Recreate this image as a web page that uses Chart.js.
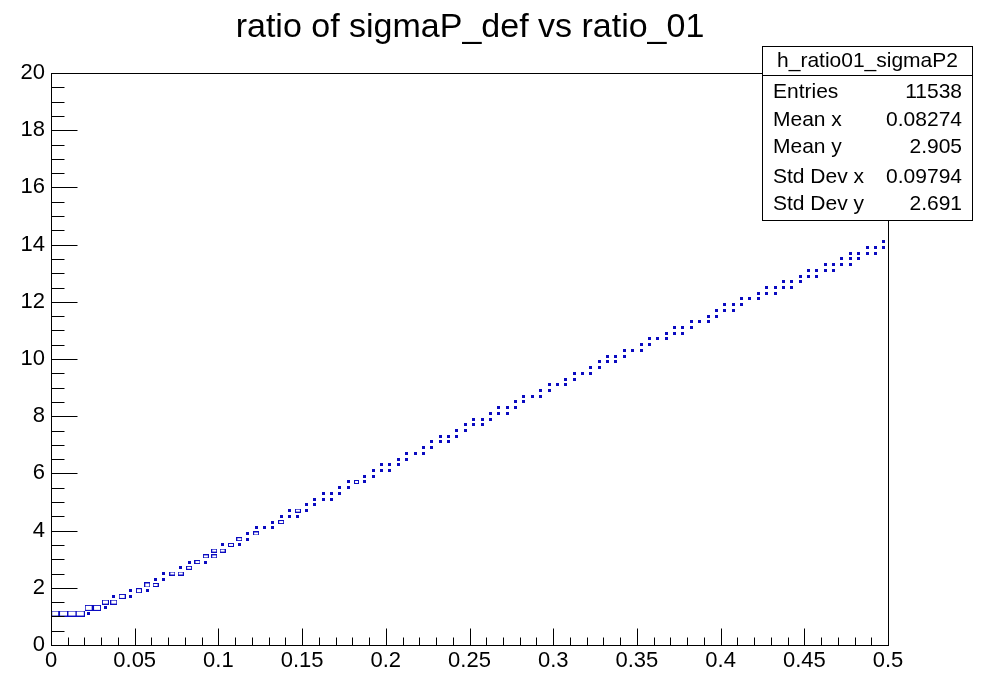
<!DOCTYPE html>
<html>
<head>
<meta charset="utf-8">
<script src="https://cdn.jsdelivr.net/npm/chart.js@4.4.0/dist/chart.umd.min.js"></script>
<style>
  body { margin: 0; background: #fff; }
  canvas { display: block; }
</style>
</head>
<body>
<canvas id="chart" width="982" height="674"></canvas>
<script>
  // binning of the 2D histogram (100 x 100 bins)
  const binWidthX = 0.005;
  const binWidthY = 0.2;

  // x bin centres of the filled columns
  const binX = [
    0.0025, 0.0075, 0.0125, 0.0175, 0.0225, 0.0275, 0.0325, 0.0375, 0.0425, 0.0475,
    0.0525, 0.0575, 0.0625, 0.0675, 0.0725, 0.0775, 0.0825, 0.0875, 0.0925, 0.0975,
    0.1025, 0.1075, 0.1125, 0.1175, 0.1225, 0.1275, 0.1325, 0.1375, 0.1425, 0.1475,
    0.1525, 0.1575, 0.1625, 0.1675, 0.1725, 0.1775, 0.1825, 0.1875, 0.1925, 0.1975,
    0.2025, 0.2075, 0.2125, 0.2175, 0.2225, 0.2275, 0.2325, 0.2375, 0.2425, 0.2475,
    0.2525, 0.2575, 0.2625, 0.2675, 0.2725, 0.2775, 0.2825, 0.2875, 0.2925, 0.2975,
    0.3025, 0.3075, 0.3125, 0.3175, 0.3225, 0.3275, 0.3325, 0.3375, 0.3425, 0.3475,
    0.3525, 0.3575, 0.3625, 0.3675, 0.3725, 0.3775, 0.3825, 0.3875, 0.3925, 0.3975,
    0.4025, 0.4075, 0.4125, 0.4175, 0.4225, 0.4275, 0.4325, 0.4375, 0.4425, 0.4475,
    0.4525, 0.4575, 0.4625, 0.4675, 0.4725, 0.4775, 0.4825, 0.4875, 0.4925, 0.4975
  ];

  // y bin centres filled in each column
  const binY = [
    [1.1], [1.1], [1.1], [1.1], [1.3, 1.1], [1.3], [1.5, 1.3], [1.5, 1.7], [1.7], [1.9, 1.7],
    [1.9], [2.1, 1.9], [2.3, 2.1], [2.5, 2.3], [2.5], [2.7, 2.5], [2.9, 2.7], [2.9], [3.1, 2.9], [3.3, 3.1],
    [3.5, 3.3], [3.5], [3.5, 3.7], [3.9, 3.7], [3.9, 4.1], [4.1], [4.3, 4.1], [4.3, 4.5], [4.7, 4.5], [4.7, 4.5],
    [4.9, 4.7], [5.1, 4.9], [5.1, 5.3], [5.3, 5.1], [5.5, 5.3], [5.7, 5.5], [5.7], [5.9, 5.7], [6.1, 5.9], [6.1, 6.3],
    [6.3, 6.1], [6.5, 6.3], [6.7, 6.5], [6.7], [6.9, 6.7], [7.1, 6.9], [7.3, 7.1], [7.3, 7.1], [7.5, 7.3], [7.7, 7.5],
    [7.9, 7.7], [7.9, 7.7], [8.1, 7.9], [8.3, 8.1], [8.3, 8.1], [8.5, 8.3], [8.7, 8.5], [8.7], [8.9, 8.7], [9.1, 8.9],
    [9.1], [9.3, 9.1], [9.5, 9.3], [9.5], [9.7, 9.5], [9.9, 9.7], [10.1, 9.9], [10.1, 9.9], [10.3, 10.1], [10.3],
    [10.5, 10.3], [10.7, 10.5], [10.7], [10.9, 10.7], [11.1, 10.9], [11.1, 10.9], [11.3, 11.1], [11.3], [11.5, 11.3], [11.7, 11.5],
    [11.9, 11.7], [11.9, 11.7], [12.1, 11.9], [12.1], [12.3, 12.1], [12.3, 12.5], [12.5, 12.3], [12.7, 12.5], [12.7, 12.5], [12.9, 12.7],
    [13.1, 12.9], [13.1, 12.9], [13.3, 13.1], [13.3, 13.1], [13.5, 13.3], [13.7, 13.5, 13.3], [13.7, 13.5], [13.9, 13.7], [13.9, 13.7], [14.1, 13.9]
  ];

  // relative bin content (100 = largest box), same shape as binY
  const binN = [
    [80], [95], [95], [95], [85, 35], [85], [75, 35], [75, 35], [75], [35, 35],
    [65], [65, 35], [35, 55], [35, 35], [60], [35, 55], [35, 60], [60], [60, 35], [60, 55],
    [35, 60], [60], [35, 60], [35, 35], [55, 35], [35], [35, 35], [55, 35], [35, 35], [55, 35],
    [35, 35], [35, 35], [35, 35], [35, 35], [35, 35], [35, 35], [50], [35, 35], [35, 35], [35, 35],
    [35, 35], [35, 35], [35, 35], [35], [35, 35], [35, 35], [35, 35], [35, 35], [35, 35], [35, 35],
    [35, 35], [35, 35], [35, 35], [35, 35], [35, 35], [35, 35], [35, 35], [35], [35, 35], [35, 35],
    [35], [35, 35], [35, 35], [35], [35, 35], [35, 35], [35, 35], [35, 35], [35, 35], [35],
    [35, 35], [35, 35], [35], [35, 35], [35, 35], [35, 35], [35, 35], [35], [35, 35], [35, 35],
    [35, 35], [35, 35], [35, 35], [35], [35, 35], [35, 35], [35, 35], [35, 35], [35, 35], [35, 35],
    [35, 35], [35, 35], [35, 35], [35, 35], [35, 35], [35, 35, 35], [35, 35], [35, 35], [35, 35], [35, 35]
  ];

  const xTickValues = [0, 0.05, 0.1, 0.15, 0.2, 0.25, 0.3, 0.35, 0.4, 0.45, 0.5];
  const yTickValues = [0, 2, 4, 6, 8, 10, 12, 14, 16, 18, 20];

  const chartTitle = "ratio of sigmaP_def vs ratio_01";
  const statsName = "h_ratio01_sigmaP2";
  const statsLabels = ["Entries", "Mean x", "Mean y", "Std Dev x", "Std Dev y"];
  const statsValues = ["11538", "0.08274", "2.905", "0.09794", "2.691"];

  const boxColor = "#0a0ac0";
  const fontFamily = "'Liberation Sans', Arial, Helvetica, sans-serif";

  const points = [];
  binX.forEach((x, i) => {
    binY[i].forEach((y, j) => points.push({ x: x, y: y, n: binN[i][j] }));
  });

  // ROOT "box" markers: a rectangle scaled to the bin content
  const boxCache = {};
  function boxImage(chart, n) {
    const xs = chart.scales.x, ys = chart.scales.y;
    const cw = xs.getPixelForValue(binWidthX) - xs.getPixelForValue(0);
    const ch = ys.getPixelForValue(0) - ys.getPixelForValue(binWidthY);
    const w = Math.max(3, Math.round(cw * n / 100));
    const h = Math.max(3, Math.round(ch * n / 100));
    const key = w + "x" + h;
    if (boxCache[key]) return boxCache[key];
    const c = document.createElement("canvas");
    const g = c.getContext("2d");
    if (w <= 3 && h <= 3) {
      c.width = w; c.height = h;
      g.fillStyle = boxColor;
      g.fillRect(0, 0, w, h);
    } else {
      c.width = w + 1; c.height = h + 1;
      g.strokeStyle = boxColor;
      g.lineWidth = 1;
      g.strokeRect(0.5, 0.5, w, h);
    }
    boxCache[key] = c;
    return c;
  }

  // frame, inward ticks, title and stats box drawn like ROOT does
  const rootDecor = {
    id: "rootDecor",
    afterDraw(chart) {
      const { ctx, chartArea: a, scales: { x, y } } = chart;
      const L = Math.round(a.left) + 0.5, R = Math.round(a.right) + 0.5;
      const T = Math.round(a.top) + 0.5, B = Math.round(a.bottom) + 0.5;
      ctx.save();
      ctx.strokeStyle = "#000";
      ctx.lineWidth = 1;
      ctx.strokeRect(L, T, R - L, B - T);

      ctx.beginPath();
      for (let k = 0; k <= 50; k++) {
        const px = Math.round(x.getPixelForValue(k * 0.01)) + 0.5;
        const len = k % 5 === 0 ? 17 : 8;
        ctx.moveTo(px, B);
        ctx.lineTo(px, B - len);
      }
      for (let k = 0; k <= 40; k++) {
        const py = Math.round(y.getPixelForValue(k * 0.5)) + 0.5;
        const len = k % 4 === 0 ? 26 : 13;
        ctx.moveTo(L, py);
        ctx.lineTo(L + len, py);
      }
      ctx.stroke();

      // title
      ctx.fillStyle = "#000";
      ctx.font = "34px " + fontFamily;
      ctx.textAlign = "center";
      ctx.textBaseline = "alphabetic";
      ctx.fillText(chartTitle, 470, 37);

      // stats box
      const bx = 762.5, by = 46.5, bw = 210, bh = 174;
      ctx.fillStyle = "#fff";
      ctx.fillRect(bx, by, bw, bh);
      ctx.strokeRect(bx, by, bw, bh);
      ctx.beginPath();
      ctx.moveTo(bx, 75.5);
      ctx.lineTo(bx + bw, 75.5);
      ctx.stroke();

      ctx.fillStyle = "#000";
      ctx.font = "21px " + fontFamily;
      ctx.textBaseline = "middle";
      ctx.textAlign = "center";
      ctx.fillText(statsName, bx + bw / 2, 61);
      const rowY = [92, 120, 147, 177, 204];
      statsLabels.forEach((lab, i) => {
        ctx.textAlign = "left";
        ctx.fillText(lab, 773, rowY[i]);
        ctx.textAlign = "right";
        ctx.fillText(statsValues[i], 962, rowY[i]);
      });
      ctx.restore();
    }
  };

  const tickFont = { family: fontFamily, size: 22 };

  new Chart(document.getElementById("chart"), {
    type: "scatter",
    data: {
      datasets: [{
        label: statsName,
        data: points,
        pointStyle: ctx => (ctx.raw ? boxImage(ctx.chart, ctx.raw.n) : "rect"),
        pointRadius: 3,
        pointHoverRadius: 3,
        borderWidth: 0,
        backgroundColor: boxColor
      }]
    },
    options: {
      responsive: false,
      devicePixelRatio: 1,
      animation: false,
      events: [],
      layout: { padding: { top: 73, right: 94, left: 0, bottom: 0 } },
      plugins: {
        legend: { display: false },
        title: { display: false },
        tooltip: { enabled: false }
      },
      scales: {
        x: {
          type: "linear",
          min: 0,
          max: 0.5,
          afterBuildTicks: s => { s.ticks = xTickValues.map(v => ({ value: v })); },
          afterFit: s => { s.height = 29; },
          grid: { display: false, drawTicks: false },
          border: { display: false },
          ticks: {
            font: tickFont,
            color: "#000",
            padding: 3,
            maxRotation: 0,
            autoSkip: false,
            callback: v => String(+v.toFixed(2))
          }
        },
        y: {
          type: "linear",
          min: 0,
          max: 20,
          afterBuildTicks: s => { s.ticks = yTickValues.map(v => ({ value: v })); },
          afterFit: s => { s.width = 51; },
          grid: { display: false, drawTicks: false },
          border: { display: false },
          ticks: {
            font: tickFont,
            color: "#000",
            padding: 6,
            autoSkip: false
          }
        }
      }
    },
    plugins: [rootDecor]
  });
</script>
</body>
</html>
